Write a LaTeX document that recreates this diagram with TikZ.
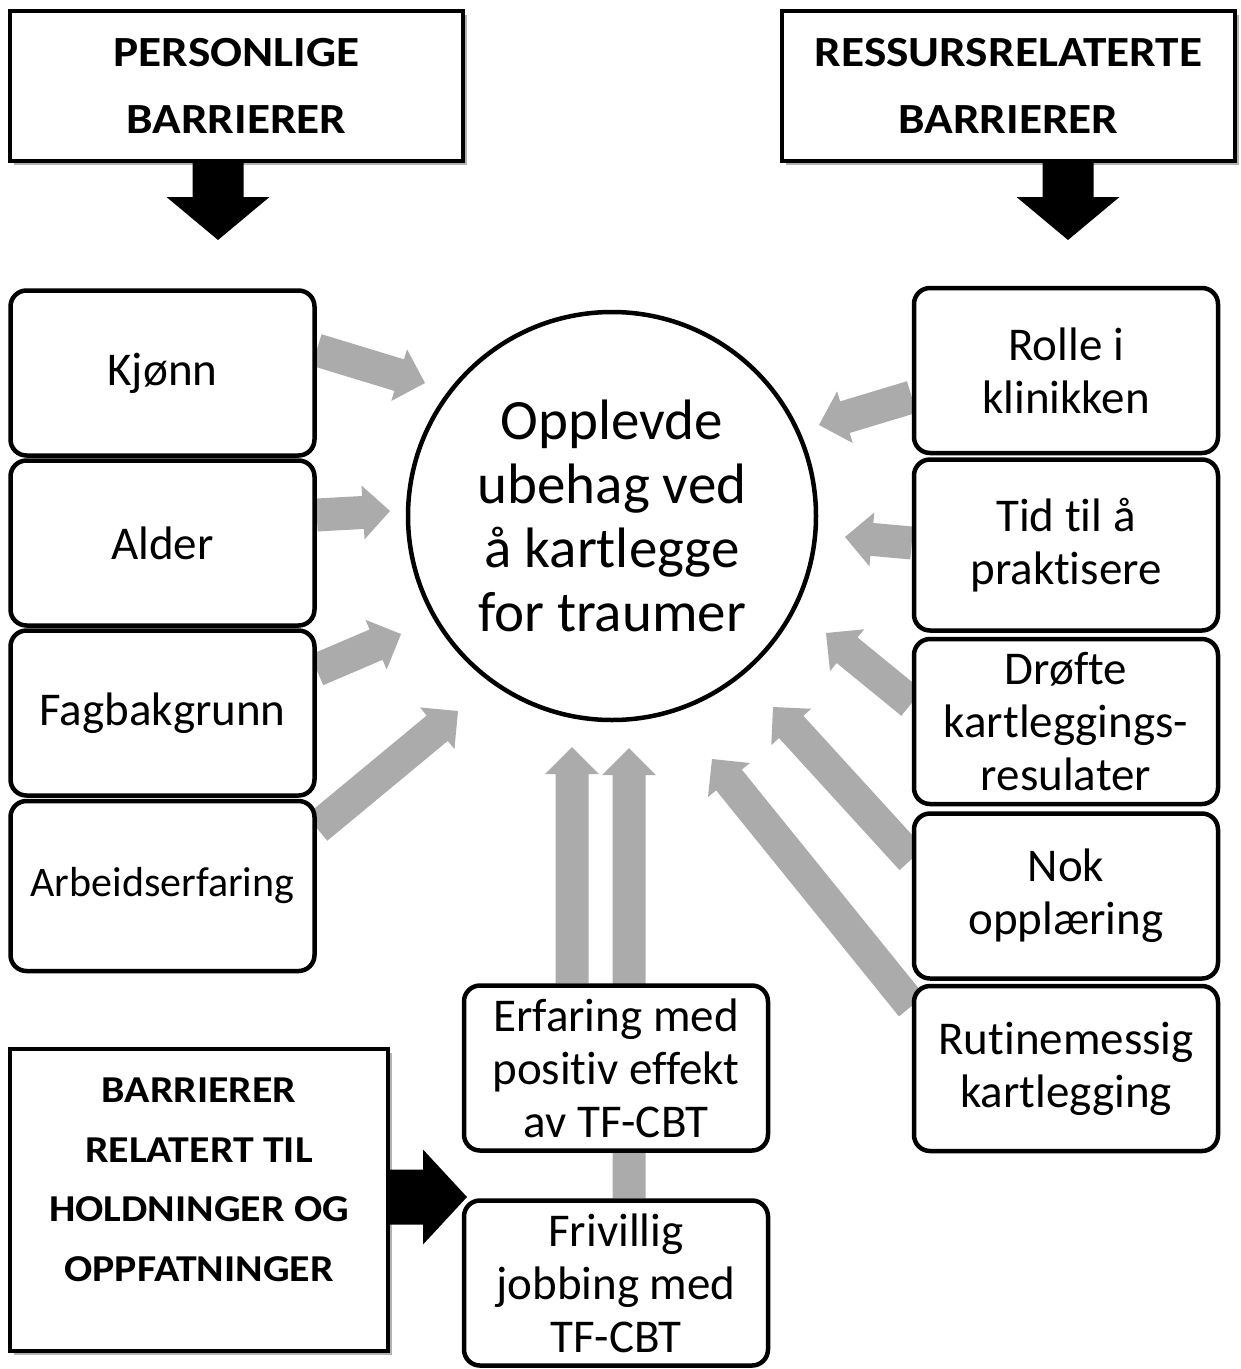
\documentclass[tikz,border=0pt]{standalone}
\usepackage{fontspec}
\setmainfont{Carlito}[Ligatures=CommonOff]
\newfontfamily\hdrfont{Carlito}[FakeStretch=1.1,Ligatures=CommonOff]
\usetikzlibrary{calc,shadows}
\pgfdeclarelayer{bg}
\pgfsetlayers{bg,main}
\definecolor{agray}{RGB}{171,171,171}
% #1 start, #2 tip, #3 half shaft, #4 half head, #5 head length, #6 colour
\newcommand\blockarrow[6]{%
  \fill[#6] let \p1=(#1), \p2=(#2),
    \n1={atan2(\y2-\y1,\x2-\x1)}, \n2={veclen(\x2-\x1,\y2-\y1)} in
    ($(\p1)+(\n1+90:#3)$) -- ++(\n1:{\n2-#5}) -- ++(\n1+90:{#4-#3}) -- (\p2)
    -- ($(\p1)+(\n1:{\n2-#5})+(\n1-90:#4)$) -- ++(\n1+90:{#4-#3})
    -- ($(\p1)+(\n1-90:#3)$) -- cycle;}
\newcommand\grayarrow[2]{\blockarrow{#1}{#2}{16.5pt}{27pt}{27pt}{agray}}
\tikzset{
  rbox/.style={draw, line width=4.5pt, rounded corners=16pt, fill=white,
    minimum width=304pt, minimum height=165pt, align=center, inner sep=0pt,
    font=\fontsize{47}{53}\selectfont},
  hbox/.style={draw, line width=4pt, fill=white,
    drop shadow={shadow xshift=4pt, shadow yshift=-4pt, fill=black, opacity=0.3},
    align=center, inner sep=0pt},
  hfont/.style={font=\hdrfont\bfseries\fontsize{43}{67}\selectfont},
}
\begin{document}
\begin{tikzpicture}[x=1pt,y=-1pt]
\useasboundingbox (0,0) rectangle (1241,1369);
\begin{pgfonlayer}{bg}
\fill[white] (0,0) rectangle (1241,1369);
\end{pgfonlayer}

% headers
\node[hbox, hfont, minimum width=453pt, minimum height=150pt] (pers) at (236.5,86) {PERSONLIGE\\BARRIERER};
\node[hbox, hfont, minimum width=453pt, minimum height=150pt] (ress) at (1008.5,86) {RESSURSRELATERTE\\BARRIERER};
\node[hbox, minimum width=378pt, minimum height=302pt] (hold) at (199,1200) {};
\node[align=center, inner sep=0pt, font=\hdrfont\bfseries\fontsize{38}{59.5}\selectfont] (holdtxt) at (199,1180)
  {BARRIERER\\RELATERT TIL\\HOLDNINGER OG\\OPPFATNINGER};

% centre
\node[draw, circle, line width=4.5pt, fill=white, minimum size=408pt, inner sep=0pt,
  align=center, font=\fontsize{57}{64}\selectfont] (c) at (612,516)
  {Opplevde\\ubehag ved\\å kartlegge\\for traumer};

% left boxes
\node[rbox] (kjonn) at (162.5,373) {Kjønn};
\node[rbox] (alder) at (162.5,543) {Alder};
\node[rbox] (fag) at (162.5,713) {Fagbakgrunn};
\node[rbox, minimum height=170pt, font=\fontsize{42}{50}\selectfont] (arb) at (162.5,886) {Arbeidserfaring};

% right boxes
\node[rbox] (rolle) at (1066,370.5) {Rolle i\\klinikken};
\node[rbox, minimum height=171pt] (tid) at (1066,545) {Tid til å\\praktisere};
\node[rbox] (drofte) at (1066,721.5) {Drøfte\\kartleggings-\\resulater};
\node[rbox] (nok) at (1066,896) {Nok\\opplæring};
\node[rbox] (rutine) at (1066,1068.5) {Rutinemessig\\kartlegging};

% bottom boxes
\node[rbox] (erf) at (616,1068) {Erfaring med\\positiv effekt\\av TF-CBT};
\node[rbox] (friv) at (616,1283) {Frivillig\\jobbing med\\TF-CBT};

% arrow tips
\coordinate (tpers) at (218,240);
\coordinate (tress) at (1068,240);
\coordinate (thold) at (467,1197);
\coordinate (tkjonn) at (425,383);
\coordinate (talder) at (390,511);
\coordinate (tfag) at (401,634);
\coordinate (tarb) at (458,711);
\coordinate (trolle) at (819,425);
\coordinate (ttid) at (845,537);
\coordinate (tdrofte) at (826,633);
\coordinate (tnok) at (773,707);
\coordinate (trutine) at (712,759);
\coordinate (terf) at (572,747);
\coordinate (tfriv) at (629,748);

\begin{pgfonlayer}{bg}
\blockarrow{$(pers.south)+(-18.5,0)$}{tpers}{25.5pt}{51.5pt}{43pt}{black}
\blockarrow{$(ress.south)+(59.5,0)$}{tress}{25.5pt}{51.5pt}{43pt}{black}
\blockarrow{$(hold.east)+(0,-3)$}{thold}{27.5pt}{47.5pt}{44pt}{black}

\grayarrow{$(kjonn.east)+(0,-23)$}{tkjonn}
\grayarrow{$(alder.east)+(0,-28)$}{talder}
\grayarrow{$(fag.east)+(0,-43)$}{tfag}
\grayarrow{$(arb.east)+(0,-58)$}{tarb}
\grayarrow{$(rolle.west)+(0,26.5)$}{trolle}
\grayarrow{$(tid.west)+(0,-2)$}{ttid}
\grayarrow{$(drofte.west)+(0,-18.5)$}{tdrofte}
\grayarrow{$(nok.west)+(0,-37)$}{tnok}
\grayarrow{$(rutine.west)+(0,-62.5)$}{trutine}
\grayarrow{$(erf.north)+(-44,0)$}{terf}
\grayarrow{$(friv.north)+(13,0)$}{tfriv}
\end{pgfonlayer}
\end{tikzpicture}
\end{document}
